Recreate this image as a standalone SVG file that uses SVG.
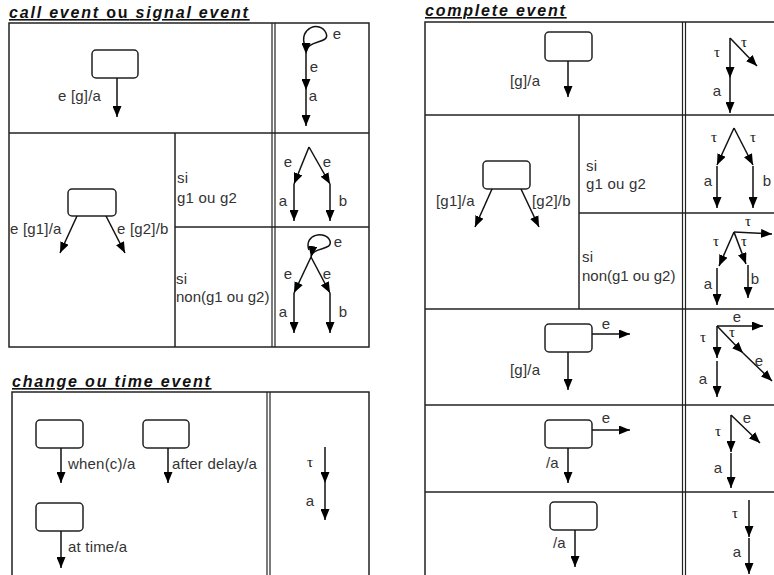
<svg xmlns="http://www.w3.org/2000/svg" width="774" height="575" viewBox="0 0 774 575">
<style>
.t{font-family:"Liberation Sans",Arial,sans-serif;font-size:16px;font-weight:bold;font-style:italic;fill:#111;text-decoration:underline;letter-spacing:1.8px}
.l{font-family:"Liberation Sans",Arial,sans-serif;font-size:15px;fill:#333;letter-spacing:0.2px}
.n{letter-spacing:0}
.c{font-family:"Liberation Sans",Arial,sans-serif;font-size:15px;fill:#333;text-anchor:middle}
.tau{font-family:"Liberation Serif","Times New Roman",serif;font-size:15px;fill:#111;text-anchor:middle}
.grid{fill:none;stroke:#222;stroke-width:1.5}
.gl{stroke:#222;stroke-width:1.5}
.dl{stroke:#222;stroke-width:1.2}
.node rect{fill:#fff;stroke:#222;stroke-width:1.5}
.edge line,.edge path{fill:none;stroke:#111;stroke-width:1.5;marker-end:url(#ah)}
</style>
<defs>
<marker id="ah" viewBox="0 0 11 9" refX="11" refY="4.5" markerWidth="11" markerHeight="9" markerUnits="userSpaceOnUse" orient="auto"><path d="M0,0 L11,4.5 L0,9 z" fill="#000"/></marker>
</defs>

<!-- titles -->
<text class="t" x="9" y="18">call event <tspan font-style="normal">ou</tspan> signal event</text>
<text class="t" x="12" y="387">change ou time event</text>
<text class="t" x="425" y="16">complete event</text>

<!-- tables -->
<g id="table-call">
<rect class="grid" x="9" y="23" width="360" height="324"/>
<line class="dl" x1="272" y1="23" x2="272" y2="347"/>
<line class="dl" x1="275" y1="23" x2="275" y2="347"/>
<line class="gl" x1="9" y1="133" x2="369" y2="133"/>
<line class="gl" x1="175" y1="133" x2="175" y2="347"/>
<line class="gl" x1="175" y1="227" x2="369" y2="227"/>
<text class="l" x="177" y="183">si</text>
<text class="l" x="177" y="203">g1 ou g2</text>
<text class="l" x="176" y="284">si</text>
<text class="l n" x="176" y="302">non(g1 ou g2)</text>
</g>
<g id="table-change">
<rect class="grid" x="12" y="392" width="357" height="220"/>
<line class="dl" x1="267" y1="392" x2="267" y2="580"/>
<line class="dl" x1="270" y1="392" x2="270" y2="580"/>
</g>
<g id="table-complete">
<rect class="grid" x="425" y="22" width="360" height="570"/>
<line class="dl" x1="682.5" y1="22" x2="682.5" y2="580"/>
<line class="dl" x1="685.5" y1="22" x2="685.5" y2="580"/>
<line class="gl" x1="425" y1="115" x2="780" y2="115"/>
<line class="gl" x1="579" y1="115" x2="579" y2="309"/>
<line class="gl" x1="579" y1="213" x2="780" y2="213"/>
<line class="gl" x1="425" y1="309" x2="780" y2="309"/>
<line class="gl" x1="425" y1="405" x2="780" y2="405"/>
<line class="gl" x1="425" y1="492" x2="780" y2="492"/>
<text class="l" x="586" y="171">si</text>
<text class="l" x="586" y="189">g1 ou g2</text>
<text class="l" x="582" y="262">si</text>
<text class="l n" x="582" y="281">non(g1 ou g2)</text>
</g>

<!-- nodes -->
<g id="n1" class="node"><rect x="92" y="50" width="46" height="28" rx="4"/></g>
<g id="n2" class="node"><rect x="68" y="189" width="48" height="27" rx="4"/></g>
<g id="n3" class="node"><rect x="36" y="420" width="47" height="28" rx="4"/></g>
<g id="n4" class="node"><rect x="143" y="420" width="46" height="28" rx="4"/></g>
<g id="n5" class="node"><rect x="36" y="503" width="47" height="28" rx="4"/></g>
<g id="n6" class="node"><rect x="545" y="32" width="47" height="29" rx="4"/></g>
<g id="n7" class="node"><rect x="483" y="161" width="47" height="28" rx="4"/></g>
<g id="n8" class="node"><rect x="545" y="324" width="47" height="28" rx="4"/></g>
<g id="n9" class="node"><rect x="545" y="420" width="47" height="28" rx="4"/></g>
<g id="n10" class="node"><rect x="550" y="502" width="47" height="28" rx="4"/></g>

<!-- connectors -->
<g id="connectors" class="edge">
<!-- call event -->
<line x1="117" y1="78" x2="117" y2="117"/>
<line x1="77" y1="216" x2="60" y2="253"/>
<line x1="106" y1="216" x2="125" y2="253"/>
<path d="M305,46 C298,28 320,20 326,33 C331,45 306,38 306,54"/>
<line x1="306" y1="54" x2="306" y2="90"/>
<line x1="306" y1="90" x2="306" y2="126"/>
<line x1="309" y1="147" x2="294" y2="184"/>
<line x1="309" y1="147" x2="330" y2="184"/>
<line x1="294" y1="184" x2="294" y2="221"/>
<line x1="330" y1="184" x2="330" y2="221"/>
<path d="M309,250 C303,234 326,230 330,241 C333,251 313,246 311,257"/>
<line x1="311" y1="257" x2="294" y2="293"/>
<line x1="311" y1="257" x2="330" y2="293"/>
<line x1="294" y1="293" x2="294" y2="333"/>
<line x1="330" y1="293" x2="330" y2="333"/>
<!-- change / time -->
<line x1="61" y1="448" x2="61" y2="483"/>
<line x1="168" y1="448" x2="168" y2="483"/>
<line x1="61" y1="531" x2="61" y2="568"/>
<line x1="325" y1="447" x2="325" y2="483"/>
<line x1="325" y1="483" x2="325" y2="520"/>
<!-- complete -->
<line x1="568" y1="61" x2="568" y2="97"/>
<line x1="730" y1="38" x2="730" y2="78"/>
<line x1="730" y1="78" x2="730" y2="113"/>
<line x1="730" y1="38" x2="757" y2="66"/>
<line x1="492" y1="189" x2="475" y2="227"/>
<line x1="521" y1="189" x2="539" y2="227"/>
<line x1="734" y1="128" x2="717" y2="165"/>
<line x1="734" y1="128" x2="753" y2="165"/>
<line x1="717" y1="166" x2="717" y2="208"/>
<line x1="753" y1="166" x2="753" y2="208"/>
<line x1="734" y1="232" x2="772" y2="234"/>
<line x1="734" y1="232" x2="719" y2="266"/>
<line x1="734" y1="232" x2="746" y2="264"/>
<line x1="717" y1="268" x2="717" y2="305"/>
<line x1="748" y1="265" x2="748" y2="298"/>
<line x1="592" y1="334" x2="630" y2="334"/>
<line x1="568" y1="352" x2="568" y2="390"/>
<line x1="717" y1="326" x2="763" y2="326"/>
<line x1="717" y1="326" x2="743" y2="353"/>
<line x1="743" y1="353" x2="772" y2="381"/>
<line x1="717" y1="326" x2="717" y2="358"/>
<line x1="717" y1="361" x2="717" y2="397"/>
<line x1="592" y1="430" x2="630" y2="430"/>
<line x1="568" y1="448" x2="568" y2="483"/>
<line x1="731" y1="415" x2="731" y2="452"/>
<line x1="731" y1="453" x2="731" y2="488"/>
<line x1="731" y1="415" x2="760" y2="443"/>
<line x1="575" y1="530" x2="575" y2="567"/>
<line x1="749" y1="500" x2="749" y2="537"/>
<line x1="749" y1="538" x2="749" y2="574"/>
</g>

<!-- labels -->
<g id="labels">
<text class="l" x="58" y="101">e [g]/a</text>
<text class="l" x="10" y="234">e [g1]/a</text>
<text class="l" x="117" y="234">e [g2]/b</text>
<text class="c" x="337" y="39">e</text>
<text class="c" x="314" y="72">e</text>
<text class="c" x="313" y="101">a</text>
<text class="c" x="288" y="167">e</text>
<text class="c" x="327" y="167">e</text>
<text class="c" x="283" y="206">a</text>
<text class="c" x="343" y="206">b</text>
<text class="c" x="338" y="247">e</text>
<text class="c" x="288" y="279">e</text>
<text class="c" x="327" y="279">e</text>
<text class="c" x="283" y="317">a</text>
<text class="c" x="343" y="317">b</text>

<text class="l" x="68" y="469">when(c)/a</text>
<text class="l" x="172" y="469">after delay/a</text>
<text class="l" x="68" y="552">at time/a</text>
<text class="tau" x="310" y="467">τ</text>
<text class="c" x="310" y="506">a</text>

<text class="l" x="510" y="86">[g]/a</text>
<text class="tau" x="717" y="57">τ</text>
<text class="tau" x="744" y="47">τ</text>
<text class="c" x="717" y="96">a</text>
<text class="l" x="436" y="206">[g1]/a</text>
<text class="l" x="532" y="206">[g2]/b</text>
<text class="tau" x="714" y="142">τ</text>
<text class="tau" x="753" y="142">τ</text>
<text class="c" x="708" y="186">a</text>
<text class="c" x="767" y="186">b</text>
<text class="tau" x="748" y="226">τ</text>
<text class="tau" x="716" y="246">τ</text>
<text class="tau" x="744" y="246">τ</text>
<text class="c" x="708" y="289">a</text>
<text class="c" x="755" y="284">b</text>
<text class="c" x="606" y="329">e</text>
<text class="l" x="510" y="375">[g]/a</text>
<text class="c" x="737" y="322">e</text>
<text class="tau" x="732" y="337">τ</text>
<text class="tau" x="703" y="342">τ</text>
<text class="c" x="759" y="366">e</text>
<text class="c" x="703" y="384">a</text>
<text class="c" x="606" y="423">e</text>
<text class="l" x="546" y="468">/a</text>
<text class="tau" x="718" y="436">τ</text>
<text class="c" x="747" y="423">e</text>
<text class="c" x="718" y="473">a</text>
<text class="l" x="553" y="548">/a</text>
<text class="tau" x="735" y="518">τ</text>
<text class="c" x="737" y="557">a</text>
</g>
</svg>
